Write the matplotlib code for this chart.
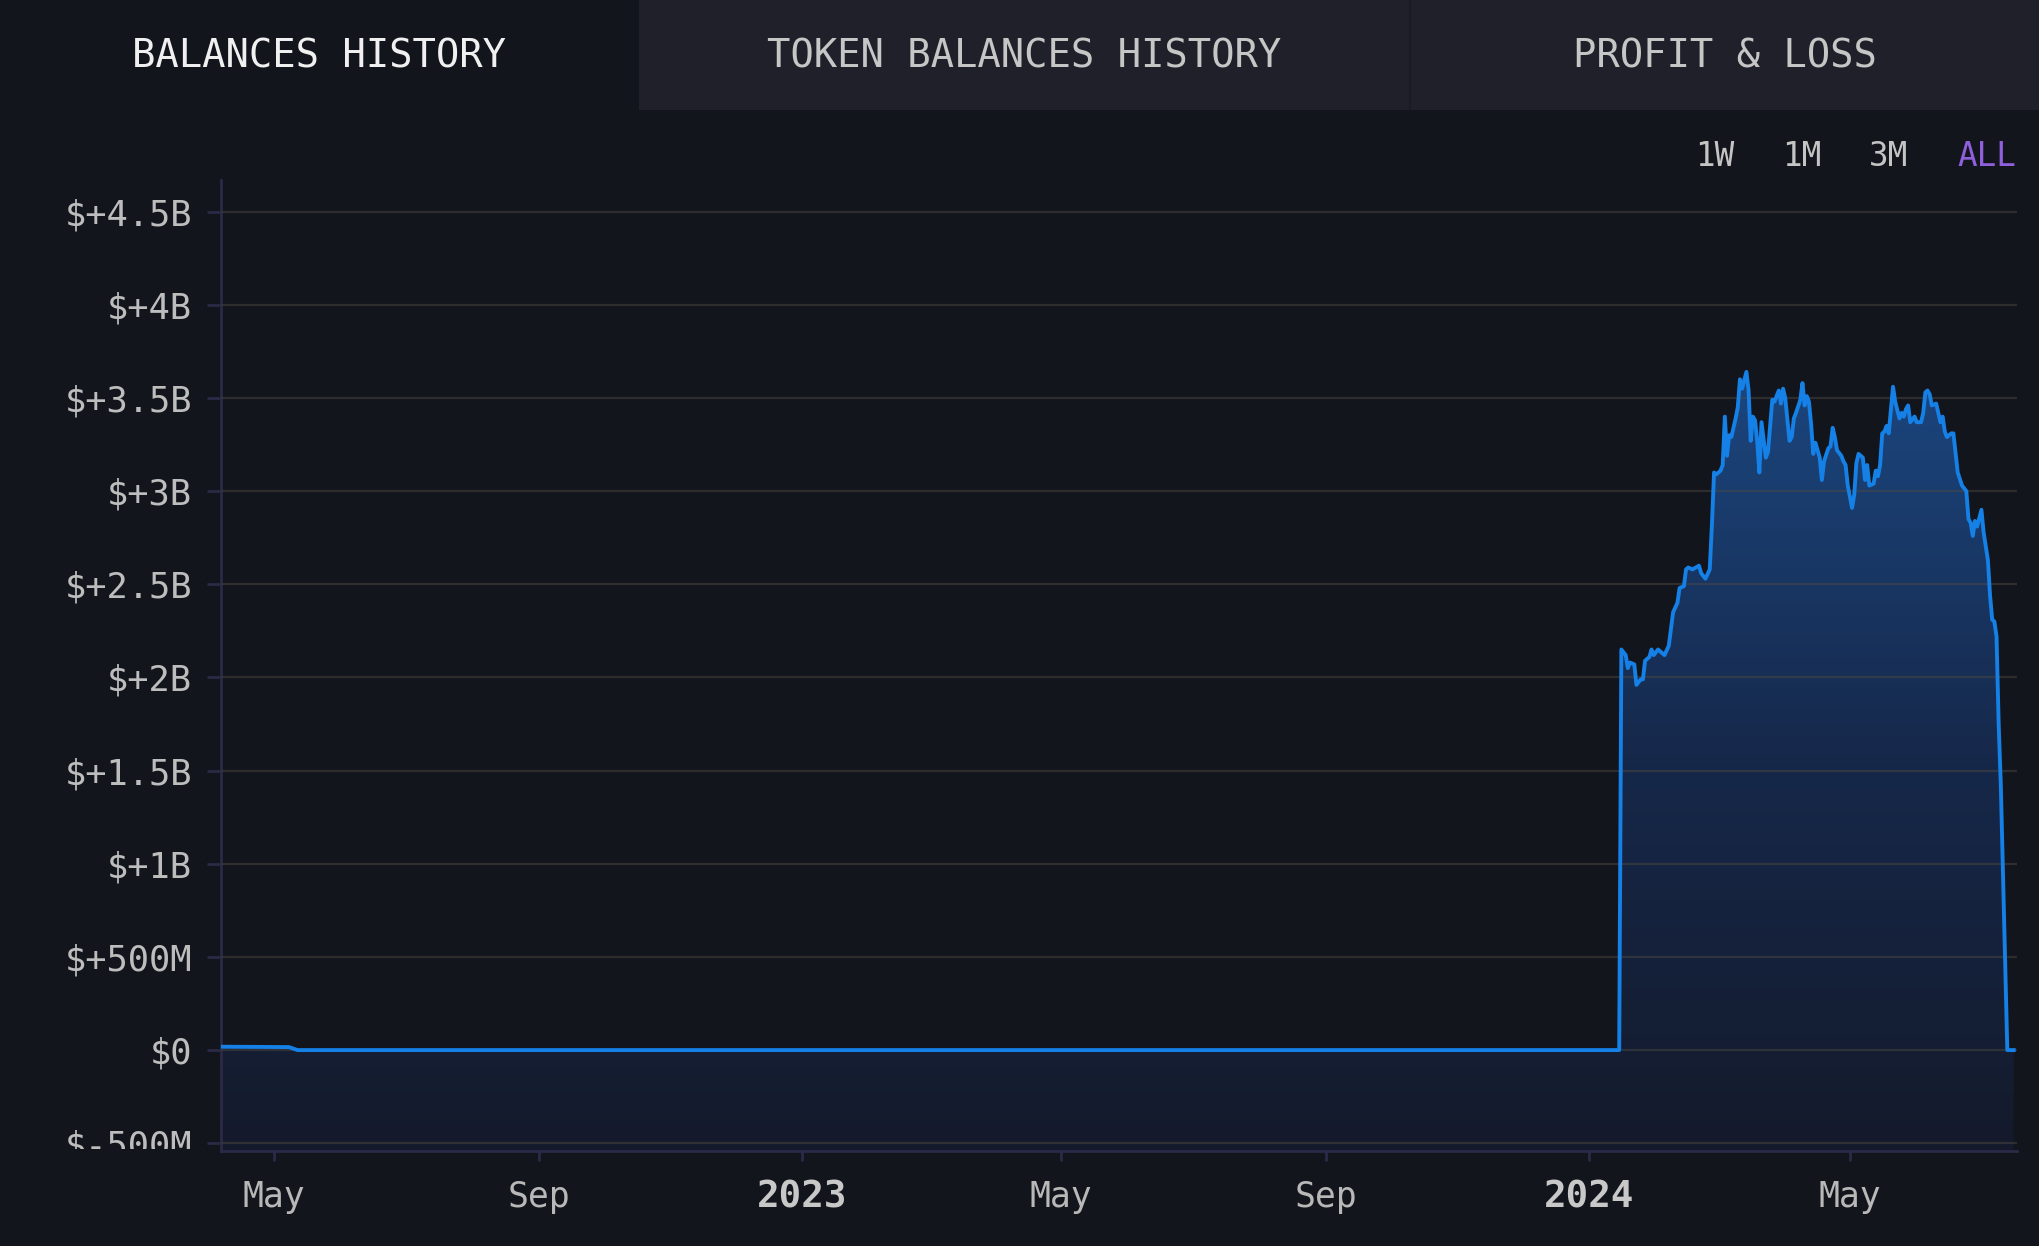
import matplotlib
matplotlib.use("Agg")
import matplotlib.dates as mdates
import matplotlib.pyplot as plt
import numpy as np
import pandas as pd
from matplotlib.colors import LinearSegmentedColormap
from matplotlib.patches import Rectangle
from matplotlib.transforms import Bbox, TransformedBbox

# early history (before the big deposit), values in $B
early_dates = ["2022-04-07", "2022-05-08", "2022-05-12", "2024-01-15"]
early_vals = [0.018, 0.016, 0.0, 0.0]

# 2024 history: day offset from 2024-01-01, value in $B
days_2024 = [15, 17, 18, 19, 21, 22, 24, 25, 26, 28, 29, 30, 32, 33, 35, 37, 39, 41, 42, 44,
             45, 46, 48, 51, 52, 54, 56, 57, 58, 59, 61, 62, 63, 64, 65, 66, 68, 69, 70, 71,
             73, 74, 75, 76, 77, 78, 79, 80, 82, 83, 85, 86, 88, 89, 90, 91, 93, 94, 95, 96,
             98, 99, 100, 101, 102, 103, 104, 105, 107, 108, 109, 111, 112, 113, 114, 115, 117, 118, 119, 120,
             122, 123, 124, 125, 127, 128, 129, 130, 132, 133, 134, 135, 136, 137, 138, 139, 141, 142, 144, 145,
             146, 147, 148, 149, 151, 152, 154, 155, 156, 157, 158, 159, 161, 163, 164, 165, 166, 168, 169, 171,
             173, 175, 176, 177, 178, 179, 180, 182, 183, 185, 186, 187, 188, 189, 190, 191, 194, 197]
vals_2024 = [2.15, 2.12, 2.05, 2.08, 2.07, 1.96, 1.99, 1.99, 2.09, 2.11, 2.15, 2.12, 2.15, 2.14, 2.12, 2.17, 2.35, 2.40, 2.48, 2.49,
             2.58, 2.59, 2.58, 2.60, 2.56, 2.53, 2.58, 2.82, 3.10, 3.09, 3.11, 3.14, 3.40, 3.19, 3.30, 3.29, 3.39, 3.45, 3.60, 3.55,
             3.64, 3.54, 3.27, 3.40, 3.38, 3.27, 3.10, 3.37, 3.18, 3.21, 3.49, 3.48, 3.54, 3.47, 3.55, 3.50, 3.27, 3.29, 3.39, 3.42,
             3.49, 3.58, 3.46, 3.51, 3.48, 3.36, 3.20, 3.26, 3.18, 3.06, 3.16, 3.23, 3.24, 3.34, 3.29, 3.22, 3.19, 3.16, 3.14, 3.03,
             2.91, 2.98, 3.15, 3.20, 3.18, 3.06, 3.14, 3.03, 3.04, 3.11, 3.08, 3.14, 3.31, 3.32, 3.35, 3.31, 3.56, 3.48, 3.39, 3.42,
             3.40, 3.44, 3.46, 3.37, 3.40, 3.37, 3.37, 3.42, 3.53, 3.54, 3.52, 3.46, 3.47, 3.37, 3.40, 3.32, 3.29, 3.31, 3.31, 3.10,
             3.03, 3.00, 2.85, 2.83, 2.76, 2.84, 2.81, 2.90, 2.78, 2.63, 2.44, 2.31, 2.30, 2.22, 1.75, 1.42, 0.0, 0.0]

y_ticks = [-0.5, 0, 0.5, 1, 1.5, 2, 2.5, 3, 3.5, 4, 4.5]
y_labels = ["$-500M", "$0", "$+500M", "$+1B", "$+1.5B", "$+2B", "$+2.5B", "$+3B", "$+3.5B", "$+4B", "$+4.5B"]
x_ticks = ["2022-05-01", "2022-09-01", "2023-01-01", "2023-05-01", "2023-09-01", "2024-01-01", "2024-05-01"]
x_labels = ["May", "Sep", "2023", "May", "Sep", "2024", "May"]
tabs = ["BALANCES HISTORY", "TOKEN BALANCES HISTORY", "PROFIT & LOSS"]
ranges = ["1W", "1M", "3M", "ALL"]

BG = "#13151d"
TAB_BG = "#1f2029"
SPINE = "#2b2a47"
LINE = "#1580e6"
FONT = "DejaVu Sans Mono"

W, H = 2040, 1246
plt.rcParams["font.family"] = [FONT, "DejaVu Sans"]

fig = plt.figure(figsize=(W / 100, H / 100), dpi=100, facecolor=BG)


def fx(px):
    return px / W


def fy(py):
    return 1 - py / H


# tab strip
tab_edges = [0, 639, 1410, 2040]
for i, name in enumerate(tabs):
    x0, x1 = tab_edges[i], tab_edges[i + 1]
    fig.patches.append(Rectangle((fx(x0), fy(110)), fx(x1 - x0), 110 / H, transform=fig.transFigure,
                                 facecolor=BG if i == 0 else TAB_BG, edgecolor="none", zorder=0))
    fig.text(fx((x0 + x1) / 2), fy(57), name, ha="center", va="center", fontsize=28,
             color="#f0f0f0" if i == 0 else "#c6c6c6", family=FONT)
fig.patches.append(Rectangle((fx(1409), fy(110)), fx(2), 110 / H, transform=fig.transFigure,
                             facecolor="#1a1b22", edgecolor="none", zorder=1))

# range selector
for label, cx in zip(ranges, [1715, 1802, 1889, 1987]):
    fig.text(fx(cx), fy(156), label, ha="center", va="center", fontsize=23.5,
             color="#8f5fdc" if label == "ALL" else "#c4c4c4", family=FONT)

ax = fig.add_axes([fx(221), fy(1150.5), fx(2017 - 221), (1150.5 - 180) / H])
ax.set_facecolor(BG)

dates = pd.to_datetime(early_dates).append(pd.Timestamp("2024-01-01") + pd.to_timedelta(days_2024, unit="D"))
values = np.array(early_vals + vals_2024)
xnum = mdates.date2num(dates)

ybot, ytop = -0.539, 4.67
xmin = mdates.date2num(pd.Timestamp("2022-04-06 12:00"))
xmax = mdates.date2num(pd.Timestamp("2024-07-17 12:00"))

# gradient area under the curve
poly = ax.fill_between(xnum, values, ybot, color="none", lw=0)
grad = np.linspace(0, 1, 256).reshape(-1, 1)
cmap = LinearSegmentedColormap.from_list("area", ["#141a2b", "#16284a", "#1b467f"])
im = ax.imshow(grad, aspect="auto", cmap=cmap, origin="lower",
               extent=[xnum[0], xnum[-1], ybot, values.max()], zorder=1)
im.set_clip_path(poly.get_paths()[0], transform=ax.transData)

ax.plot(xnum, values, color=LINE, lw=2.8, zorder=3, solid_joinstyle="round")

ax.set_xlim(xmin, xmax)
ax.set_ylim(ybot, ytop)

ax.set_yticks(y_ticks)
ax.set_yticklabels(y_labels)
ax.set_xticks(mdates.date2num(pd.to_datetime(x_ticks)))
ax.set_xticklabels(x_labels)

ax.set_axisbelow(False)
ax.yaxis.grid(True, color="#504b41", alpha=0.45, lw=1.6)
ax.xaxis.grid(False)

for side in ["top", "right"]:
    ax.spines[side].set_visible(False)
for side in ["left", "bottom"]:
    ax.spines[side].set_color(SPINE)
    ax.spines[side].set_linewidth(2)

ax.tick_params(axis="y", length=10, width=2, color=SPINE, pad=11, labelsize=25.5, labelcolor="#bdbdbd")
ax.tick_params(axis="x", length=7, width=2, color=SPINE, pad=14, labelsize=25, labelcolor="#b8b8b8")

for lab in ax.get_xticklabels():
    if lab.get_text().isdigit():
        lab.set_fontweight("bold")
        lab.set_fontsize(27)
        lab.set_color("#c8c8c8")

clip = TransformedBbox(Bbox([[0, 1 - 1149 / H], [1, 1]]), fig.transFigure)
for lab in ax.get_yticklabels():
    lab.set_clip_box(clip)
    lab.set_clip_on(True)

fig.savefig("out.png", dpi=100, facecolor=BG)
